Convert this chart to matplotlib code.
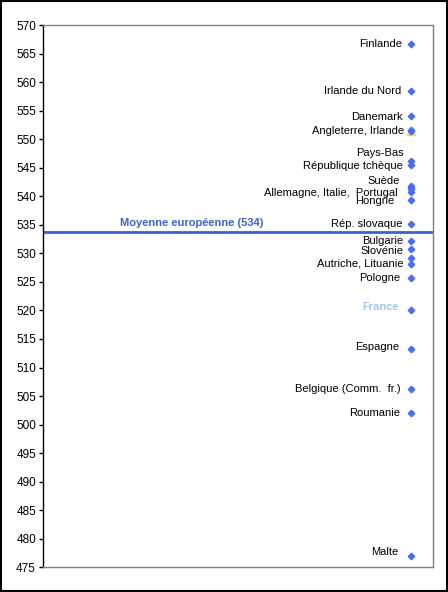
import matplotlib
matplotlib.use("Agg")
import matplotlib.pyplot as plt
from matplotlib.patches import Rectangle

plt.rcParams['font.family'] = ['Liberation Sans', 'DejaVu Sans']

# ---- data ----
countries = ["Finlande", "Irlande du Nord", "Danemark", "Angleterre", "Irlande",
             "Pays-Bas", "République tchèque", "Suède", "Allemagne", "Italie",
             "Portugal", "Hongrie", "Rép. slovaque", "Bulgarie", "Slovénie",
             "Autriche", "Lituanie", "Pologne", "France", "Espagne",
             "Belgique (Comm. fr.)", "Roumanie", "Malte"]
scores = [566.7, 558.5, 554.1, 551.5, 551.6,
          546.1, 545.5, 541.8, 541.5, 541.2,
          540.8, 539.4, 535.1, 532.1, 530.7,
          529.1, 528.2, 525.6, 520.1, 513.3,
          506.2, 502.0, 477.0]
european_mean = 533.8
mean_label = "Moyenne européenne (534)"

# labels shown next to points, each anchored on one country's score
label_texts = ["Finlande", "Irlande du Nord", "Danemark", "Angleterre, Irlande",
               "Pays-Bas", "République tchèque", "Suède",
               "Allemagne, Italie,  Portugal", "Hongrie", "Rép. slovaque",
               "Bulgarie", "Slovénie", "Autriche, Lituanie", "Pologne", "France",
               "Espagne", "Belgique (Comm.  fr.)", "Roumanie", "Malte"]
label_anchor = ["Finlande", "Irlande du Nord", "Danemark", "Angleterre",
                "Pays-Bas", "République tchèque", "Suède", "Italie", "Hongrie",
                "Rép. slovaque", "Bulgarie", "Slovénie", "Autriche", "Pologne",
                "France", "Espagne", "Belgique (Comm. fr.)", "Roumanie", "Malte"]
yticks = list(range(475, 571, 5))

# ---- layout (pixel offsets of labels relative to their point, up positive) ----
label_dx = [-9, -10, -8, -7, -7, -8, -11, -13, -17, -8, -8, -7, -7, -11, -12, -12, -10, -11, -13]
label_dy = [0, 0, -1, 0, 8, -1, 5, -4, -1, 0, 0, -2, -5, 0, 3, 2, 0, 0, 4]

fig = plt.figure(figsize=(4.48, 5.92), dpi=100)
ax = fig.add_axes([43/448, (592-567.3)/592, 390/448, 542.3/592])

x_pos = 1.0
ax.set_xlim(0, 1.06)
ax.set_ylim(475, 570)

ax.axhline(european_mean, color="#3A64C8", lw=2, zorder=2)
ax.text(0.405, european_mean + 0.6, mean_label, color="#3A64C8",
        fontsize=8, fontweight="bold", ha="center", va="bottom")

# highlight marker behind England
eng = scores[countries.index("Angleterre")]
ax.plot([x_pos], [eng], marker="^", ms=5.5, color="#F0E040", ls="none", zorder=3)
ax.plot([x_pos] * len(scores), scores, marker="D", ms=3.3, color="#4A6EF0",
        ls="none", zorder=4)

for txt, anc, dx, dy in zip(label_texts, label_anchor, label_dx, label_dy):
    yv = scores[countries.index(anc)]
    is_fr = txt == "France"
    ax.annotate(txt, (x_pos, yv), xytext=(dx * 0.72, dy * 0.72),
                textcoords="offset points", ha="right", va="center",
                fontsize=8, color="#A6C8EE" if is_fr else "black",
                fontweight="bold" if is_fr else "normal")

ax.set_yticks(yticks)
ax.set_xticks([])
ax.tick_params(axis="y", direction="out", length=3, width=1, labelsize=8.5,
               colors="black", pad=2)
for s in ["top", "right", "bottom"]:
    ax.spines[s].set_color("#808080")
    ax.spines[s].set_linewidth(1)
ax.spines["left"].set_color("black")
ax.spines["left"].set_linewidth(1)

fig.patches.append(Rectangle((1/448, 1/592), 446/448, 590/592, transform=fig.transFigure,
                             fill=False, edgecolor="black", lw=1.5))

fig.savefig("out.png", dpi=100)
